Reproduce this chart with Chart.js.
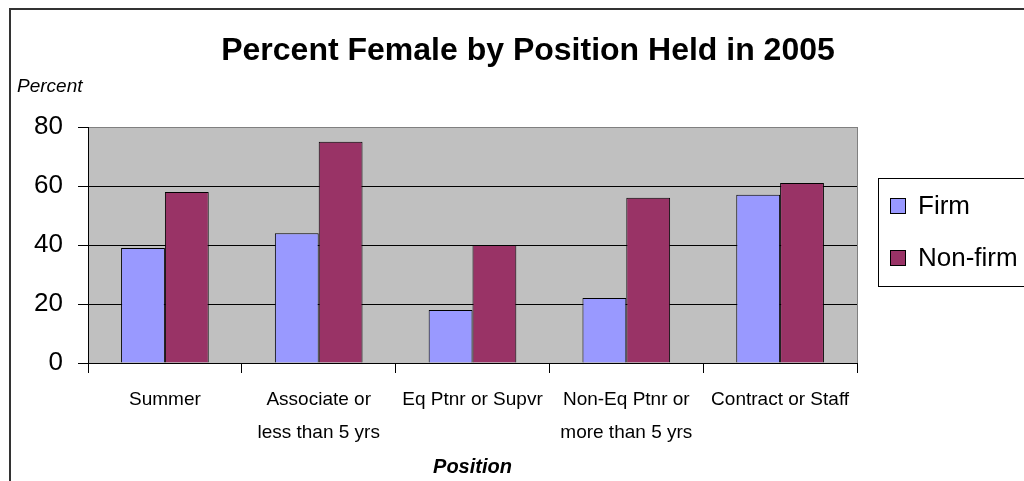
<!DOCTYPE html>
<html>
<head>
<meta charset="utf-8">
<script src="https://cdn.jsdelivr.net/npm/chart.js@4/dist/chart.umd.min.js"></script>
<style>
  html, body { margin: 0; padding: 0; background: #fff; }
  #wrap { width: 1024px; height: 481px; position: relative; }
</style>
</head>
<body>
<div id="wrap"><canvas id="chart"></canvas></div>
<script>
// --- Data ---
const categories = [
  'Summer',
  ['Associate or', 'less than 5 yrs'],
  'Eq Ptnr or Supvr',
  ['Non-Eq Ptnr or', 'more than 5 yrs'],
  'Contract or Staff'
];
const firmValues = [39, 44, 18, 22, 57];
const nonFirmValues = [58, 75, 40, 56, 61];
const yTicks = [0, 20, 40, 60, 80];

const SANS = "'Liberation Sans', Arial, sans-serif";
const NARROW = "'Liberation Sans Narrow', 'Arial Narrow', 'Liberation Sans', sans-serif";

// --- Decorations: frame, plot background, title, legend ---
const decor = {
    id: 'decor',
    beforeDraw(chart) {
        const { ctx, chartArea: a } = chart;
        ctx.save();
        ctx.fillStyle = '#fff';
        ctx.fillRect(0, 0, chart.width, chart.height);
        // plot background
        ctx.fillStyle = '#c0c0c0';
        ctx.fillRect(a.left, a.top, a.right - a.left, a.bottom - a.top);
        // outer frame (top + left)
        ctx.strokeStyle = '#333';
        ctx.lineWidth = 2;
        ctx.beginPath();
        ctx.moveTo(10, chart.height);
        ctx.lineTo(10, 9);
        ctx.lineTo(chart.width, 9);
        ctx.stroke();
        ctx.restore();
    },
    afterDraw(chart) {
        const { ctx, chartArea: a } = chart;
        ctx.save();
        // right border of plot
        ctx.strokeStyle = '#808080';
        ctx.lineWidth = 1;
        ctx.beginPath();
        ctx.moveTo(a.right + 0.5, a.top);
        ctx.lineTo(a.right + 0.5, a.bottom);
        ctx.stroke();

        // title
        ctx.fillStyle = '#000';
        ctx.textAlign = 'center';
        ctx.textBaseline = 'middle';
        ctx.font = 'bold 32px ' + SANS;
        ctx.fillText('Percent Female by Position Held in 2005', 528, 51);

        // y axis caption
        ctx.textAlign = 'left';
        ctx.font = 'italic 19px ' + NARROW;
        ctx.fillText('Percent', 17, 87);

        // legend
        ctx.strokeStyle = '#000';
        ctx.lineWidth = 1;
        ctx.strokeRect(878.5, 178.5, 200, 108);
        ctx.font = '26px ' + SANS;
        chart.data.datasets.forEach((ds, i) => {
            const y = 206 + i * 52;
            ctx.fillStyle = ds.backgroundColor;
            ctx.fillRect(890, y - 8, 16, 16);
            ctx.strokeRect(890.5, y - 7.5, 15, 15);
            ctx.fillStyle = '#000';
            ctx.fillText(ds.label, 918, y + 1);
        });
        ctx.restore();
    }
};

new Chart(document.getElementById('chart'), {
    type: 'bar',
    data: {
        labels: categories,
        datasets: [
            {
                label: 'Firm',
                data: firmValues,
                backgroundColor: '#9999ff',
                borderColor: '#000',
                borderWidth: 1,
                categoryPercentage: 0.57,
                barPercentage: 1.0
            },
            {
                label: 'Non-firm',
                data: nonFirmValues,
                backgroundColor: '#993366',
                borderColor: '#000',
                borderWidth: 1,
                categoryPercentage: 0.57,
                barPercentage: 1.0
            }
        ]
    },
    options: {
        responsive: true,
        maintainAspectRatio: false,
        animation: false,
        layout: {
            padding: { left: 10, right: 167, top: 127, bottom: 0 }
        },
        plugins: {
            legend: { display: false },
            title: { display: false },
            tooltip: { enabled: false }
        },
        scales: {
            x: {
                afterFit: (scale) => { scale.height = 118; },
                grid: {
                    drawOnChartArea: false,
                    color: '#000',
                    tickLength: 10
                },
                border: { color: '#000' },
                ticks: {
                    color: '#000',
                    padding: 10,
                    maxRotation: 0,
                    autoSkip: false,
                    font: { family: NARROW, size: 19, lineHeight: 1.74 }
                },
                title: {
                    display: true,
                    text: 'Position',
                    color: '#000',
                    padding: { top: 0, bottom: 2 },
                    font: { family: NARROW, size: 20, style: 'italic', weight: 'bold' }
                }
            },
            y: {
                min: 0,
                max: 80,
                afterFit: (scale) => { scale.width = 78; },
                afterBuildTicks: (scale) => {
                    scale.ticks = yTicks.map(v => ({ value: v }));
                },
                grid: {
                    color: (c) => (c.tick && c.tick.value === 80 ? '#808080' : '#000'),
                    tickColor: '#000',
                    tickLength: 10
                },
                border: { color: '#000' },
                ticks: {
                    color: '#000',
                    padding: 15,
                    font: { family: SANS, size: 26 }
                }
            }
        }
    },
    plugins: [decor]
});
</script>
</body>
</html>
